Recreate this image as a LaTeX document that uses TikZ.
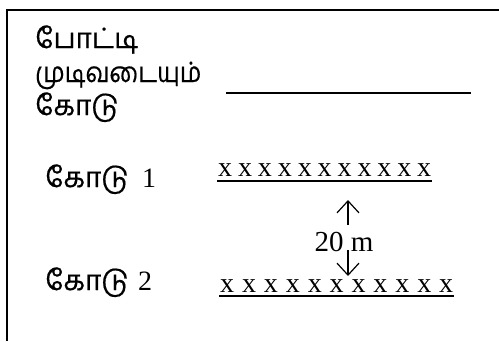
\documentclass[tikz,border=0pt]{standalone}
\usepackage{fontspec}
\setmainfont{Liberation Serif}
\newfontfamily\tamil[Script=Tamil,FakeBold=0.5]{Hind Madurai}
\usetikzlibrary{arrows.meta}
\newcommand{\tamsz}{\tamil\fontsize{28}{31}\selectfont}
\tikzset{
  ta/.style={font=\tamsz, anchor=base west, inner sep=0pt},
  lab/.style={font=\fontsize{28}{31}\selectfont, anchor=base west, inner sep=0pt},
  xs/.style={font=\fontsize{28}{32}\selectfont, anchor=base west, inner sep=0pt},
  rule/.style={line width=2pt},
  frame/.style={line width=2pt},
  dim/.style={line width=1.2pt, -{Straight Barb[length=12pt,width=22pt,line width=1.2pt]}}
}
\begin{document}
\begin{tikzpicture}[x=1pt,y=-1pt]
\useasboundingbox (0,0) rectangle (499,341);
\coordinate (tl) at (7,10);
\coordinate (tr) at (499,10);
\coordinate (bl) at (7,341);
\draw[frame] (tr) -- (tl) -- (bl);
\node[ta] (t1) at (35,48) {போட்டி};
\node[ta] (t2) at (35,82) {\scalebox{0.86}[1]{முடிவடையும்}};
\node[ta] (t3) at (35,115) {கோடு};
\coordinate (u1) at (226,93);
\coordinate (u2) at (471,93);
\draw[rule] (u1) -- (u2);
\node[lab] (k1) at (45,187) {\makebox[97pt][l]{\tamsz கோடு}1};
\node[lab] (k2) at (45,290) {\makebox[93pt][l]{\tamsz கோடு}2};
\node[xs] (r1) at (218,176) {\spaceskip=5.9pt\relax x x x x x x x x x x x};
\node[xs] (r2) at (220,292) {\spaceskip=7.9pt\relax x x x x x x x x x x x};
\draw[rule] (217,181) coordinate (a1) -- (432,181) coordinate (a2);
\draw[rule] (219,296) coordinate (b1) -- (454,296) coordinate (b2);
\node[font=\fontsize{29}{32}\selectfont, anchor=base, inner sep=0pt] (d) at (344,251) {20 m};
\coordinate (ua) at (348,225);
\coordinate (ub) at (348,200);
\coordinate (da) at (348,250);
\coordinate (db) at (348,276);
\draw[dim] (ua) -- (ub);
\draw[dim] (da) -- (db);
\end{tikzpicture}
\end{document}
